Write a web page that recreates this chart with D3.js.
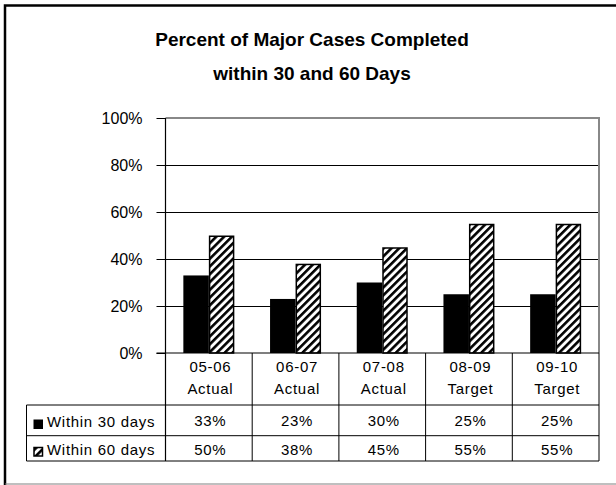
<!DOCTYPE html>
<html><head><meta charset="utf-8">
<script src="https://cdn.jsdelivr.net/npm/d3@7"></script>
<style>
html,body{margin:0;padding:0;background:#fff;}
svg{display:block;}
text{font-family:"Liberation Sans",Arial,sans-serif;fill:#000;}
</style></head>
<body>
<script>
const titleLines = ["Percent of Major Cases Completed", "within 30 and 60 Days"];
const categoriesTop = ["05-06", "06-07", "07-08", "08-09", "09-10"];
const categoriesBottom = ["Actual", "Actual", "Actual", "Target", "Target"];
const seriesNames = ["Within 30 days", "Within 60 days"];
const within30 = [0.33, 0.23, 0.30, 0.25, 0.25];
const within60 = [0.50, 0.38, 0.45, 0.55, 0.55];
const within30Labels = ["33%", "23%", "30%", "25%", "25%"];
const within60Labels = ["50%", "38%", "45%", "55%", "55%"];
const yTicks = [0, 0.2, 0.4, 0.6, 0.8, 1.0];

(function () {
const W = 616, H = 485;
const svg = d3.select("body").append("svg").attr("width", W).attr("height", H);

const defs = svg.append("defs");
const pat = defs.append("pattern").attr("id", "hatch")
  .attr("patternUnits", "userSpaceOnUse").attr("width", 5.5).attr("height", 5.5)
  .attr("patternTransform", "rotate(45)");
pat.append("rect").attr("width", 5.5).attr("height", 5.5).attr("fill", "#fff");
pat.append("rect").attr("x", 0).attr("width", 2.6).attr("height", 5.5).attr("fill", "#000");

// outer frame
svg.append("path").attr("d", "M5,620 L5,5.5 L620,5.5").attr("fill", "none").attr("stroke", "#000").attr("stroke-width", 2.5);
svg.append("line").attr("x1", 5).attr("x2", 620).attr("y1", 484).attr("y2", 484).attr("stroke", "#808080").attr("stroke-width", 1.2);

// title
svg.append("g").selectAll("text").data(titleLines).join("text")
  .attr("x", 312).attr("y", (d, i) => [45.5, 80][i])
  .attr("text-anchor", "middle").attr("font-size", 19).attr("font-weight", "bold")
  .text(d => d);

const pLeft = 165.5, pRight = 599, pTop = 118, pBottom = 353;
const x = d3.scaleBand().domain(d3.range(categoriesTop.length)).range([pLeft, pRight]).padding(0);
const xs = d3.scaleBand().domain([0, 1]).range([0, x.bandwidth()]).paddingInner(0).paddingOuter(0.7);
const y = d3.scaleLinear().domain([0, 1]).range([pBottom, pTop]);

// gridlines
svg.append("g").selectAll("line").data(yTicks.filter(t => t > 0 && t < 1)).join("line")
  .attr("x1", pLeft).attr("x2", pRight).attr("y1", d => Math.round(y(d)) + 0.5).attr("y2", d => Math.round(y(d)) + 0.5)
  .attr("stroke", "#000").attr("stroke-width", 1);

// plot border (top/right gray)
svg.append("path").attr("d", `M${pLeft},${y(1)} L${pRight},${y(1)} L${pRight},${pBottom}`)
  .attr("fill", "none").attr("stroke", "#888").attr("stroke-width", 2);

// y axis
const yAxis = d3.axisLeft(y).tickValues(yTicks).tickFormat(d3.format(".0%")).tickSize(9).tickPadding(14);
const ga = svg.append("g").attr("transform", `translate(${pLeft},0)`).call(yAxis);
ga.select(".domain").remove();
ga.selectAll(".tick line").attr("stroke", "#000");
ga.selectAll(".tick text").attr("font-size", 16).attr("font-family", "Liberation Sans, Arial, sans-serif").attr("fill", "#000");
svg.append("line").attr("x1", pLeft).attr("x2", pLeft).attr("y1", pTop).attr("y2", 461).attr("stroke", "#000").attr("stroke-width", 1.2);

// bars
const gb = svg.append("g");
gb.selectAll("rect.b30").data(within30).join("rect").attr("class", "b30")
  .attr("x", (d, i) => x(i) + xs(0)).attr("width", xs.bandwidth())
  .attr("y", d => y(d)).attr("height", d => pBottom - y(d)).attr("fill", "#000");
gb.selectAll("rect.b60").data(within60).join("rect").attr("class", "b60")
  .attr("x", (d, i) => x(i) + xs(1) + 0.75).attr("width", xs.bandwidth() - 1.5)
  .attr("y", d => y(d) + 0.75).attr("height", d => pBottom - y(d) - 0.75)
  .attr("fill", "url(#hatch)").attr("stroke", "#000").attr("stroke-width", 1.5);

// x axis line
svg.append("line").attr("x1", pLeft - 9).attr("x2", pRight).attr("y1", pBottom).attr("y2", pBottom).attr("stroke", "#000").attr("stroke-width", 1.2);

// table
const rowTop = 405, rowMid = 435.7, rowBot = 461, tableLeft = 26.5;
const gt = svg.append("g").attr("stroke", "#000").attr("stroke-width", 1);
d3.range(categoriesTop.length + 1).forEach(i => {
  const xx = i < categoriesTop.length ? x(i) : pRight;
  gt.append("line").attr("x1", xx).attr("x2", xx).attr("y1", pBottom).attr("y2", rowBot);
});
[rowTop, rowMid, rowBot].forEach(yy => gt.append("line").attr("x1", tableLeft).attr("x2", pRight).attr("y1", yy).attr("y2", yy));
gt.append("line").attr("x1", tableLeft).attr("x2", tableLeft).attr("y1", rowTop).attr("y2", rowBot);

const cx = i => x(i) + x.bandwidth() / 2 + 1.5;
const tfont = g => g.attr("font-size", 15).attr("letter-spacing", 0.7).attr("text-anchor", "middle");
svg.append("g").selectAll("text").data(categoriesTop).join("text").call(tfont)
  .attr("x", (d, i) => cx(i)).attr("y", 372).text(d => d);
svg.append("g").selectAll("text").data(categoriesBottom).join("text").call(tfont)
  .attr("x", (d, i) => cx(i)).attr("y", 394).text(d => d);
svg.append("g").selectAll("text").data(within30Labels).join("text").call(tfont)
  .attr("x", (d, i) => cx(i)).attr("y", 426).text(d => d);
svg.append("g").selectAll("text").data(within60Labels).join("text").call(tfont)
  .attr("x", (d, i) => cx(i)).attr("y", 454.5).text(d => d);

// legend keys
svg.append("rect").attr("x", 33.5).attr("y", 419.5).attr("width", 9.5).attr("height", 9.5).attr("fill", "#000");
svg.append("rect").attr("x", 34).attr("y", 447.5).attr("width", 8.5).attr("height", 8.5)
  .attr("fill", "url(#hatch)").attr("stroke", "#000").attr("stroke-width", 1.5);
svg.append("g").selectAll("text").data(seriesNames).join("text")
  .attr("font-size", 15).attr("letter-spacing", 0.7)
  .attr("x", 47).attr("y", (d, i) => [426.5, 455][i]).text(d => d);
})();
</script>
</body></html>
